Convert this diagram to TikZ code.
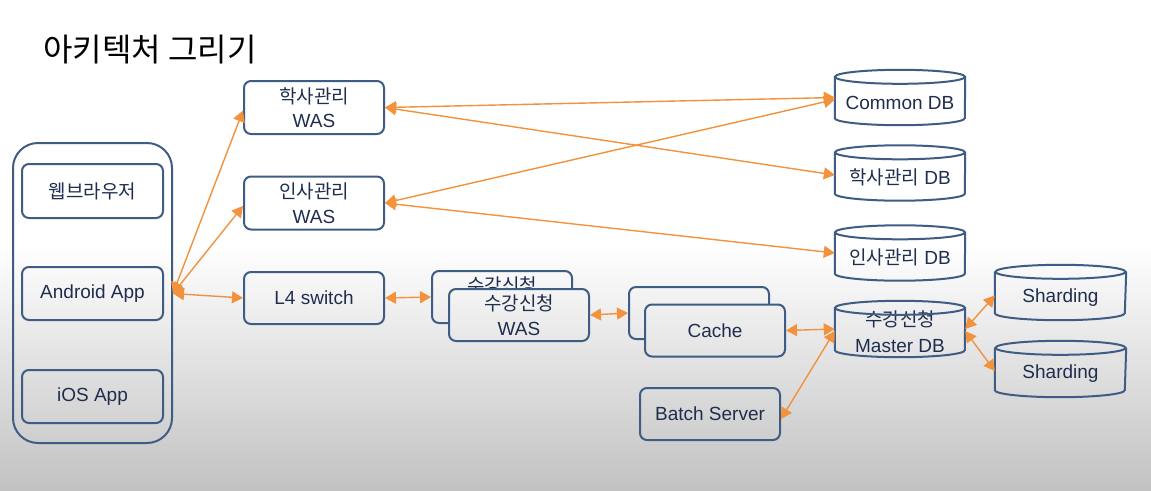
\documentclass[tikz,border=0pt]{standalone}
\usepackage{fontspec}
\setmainfont{Liberation Sans}
\newfontfamily\kr{Noto Sans CJK KR}
\usetikzlibrary{arrows.meta,calc}
\definecolor{boxc}{HTML}{3F5D84}
\definecolor{txtc}{HTML}{1F2E4E}
\definecolor{arrc}{HTML}{F2923D}
\tikzset{
  box/.style={draw=boxc, line width=2pt, rounded corners=7pt, minimum width=140pt, minimum height=53pt,
    align=center, text=txtc, font=\fontsize{19}{24.5}\selectfont, inner sep=0pt},
  db/.style={minimum width=130pt, minimum height=55pt, inner sep=0pt},
  dbtext/.style={text=txtc, font=\fontsize{19}{26}\selectfont, align=center, inner sep=0pt},
  dbline/.style={draw=boxc, line width=2pt},
  conn/.style={draw=arrc, line width=1.4pt, {Triangle[length=11pt,width=12pt]}-{Triangle[length=11pt,width=12pt]}},
}
\newcommand\cyl[1]{%
  \draw[dbline] ([yshift=-7pt]#1.north) ellipse [x radius=65pt, y radius=7pt];
  \draw[dbline] ([yshift=-7pt]#1.north west) -- ([yshift=7pt]#1.south west)
     arc[start angle=180, end angle=360, x radius=65pt, y radius=7pt] -- ([yshift=-7pt]#1.north east);
}
\newcommand\bgfill{%
  \fill[white] (0,0) rectangle (1151,490);
  \shade[top color=white, bottom color=gray!48] (0,245) rectangle (1151,490);
}
\begin{document}
\begin{tikzpicture}[x=1pt,y=-1pt]
\useasboundingbox (0,0) rectangle (1151,490);
\bgfill
% title
\node[anchor=west, inner sep=0pt, font=\kr\fontsize{32}{36}\selectfont] (title) at (43,50) {아키텍처 그리기};
% clients
\node[box, rounded corners=25pt, minimum width=159pt, minimum height=300pt] (client) at (92.5,293) {};
\node[box, minimum width=141pt, minimum height=54pt] (web) at (92.5,191) {\kr 웹브라우저};
\node[box, minimum width=141pt] (android) at (92.5,293.5) {Android App};
\node[box, minimum width=141pt] (ios) at (92.5,396.5) {iOS App};
% WAS
\node[box] (haksa) at (314,107.5) {{\kr 학사관리}\\WAS};
\node[box] (insa) at (314,203) {{\kr 인사관리}\\WAS};
\node[box, minimum height=52pt] (l4) at (314,298) {L4 switch};
% sugang WAS (stacked)
\node[box, minimum height=52pt] (sgb) at (502,297) {{\kr 수강신청}\\WAS};
\begin{scope}
  \clip[rounded corners=7pt] (449,289) rectangle (589,341);
  \bgfill
\end{scope}
\node[box, minimum height=52pt] (sgf) at (519,315) {{\kr 수강신청}\\WAS};
% cache (stacked)
\node[box, minimum height=52pt] (cab) at (699,313) {};
\begin{scope}
  \clip[rounded corners=7pt] (645,304.5) rectangle (785,356.5);
  \bgfill
\end{scope}
\node[box, minimum height=52pt] (caf) at (715,330.5) {Cache};
\node[box, minimum height=52pt] (batch) at (710,414) {Batch Server};
% databases
\node[db, label={[dbtext, yshift=-5pt]center:Common DB}] (cdb) at (900,97.5) {};
\node[db, label={[dbtext, yshift=-4pt]center:{\kr 학사관리} DB}] (hdb) at (900,173) {};
\node[db, label={[dbtext, yshift=-4pt]center:{\kr 인사관리} DB}] (idb) at (900,253) {};
\node[db, minimum height=56pt, label={[dbtext, yshift=-3pt]center:{\kr 수강신청}\\Master DB}] (mdb) at (900,329) {};
\node[db, minimum width=131pt, label={[dbtext, yshift=-5pt]center:Sharding}] (sh1) at (1060.5,292.5) {};
\node[db, minimum width=131pt, minimum height=56pt, label={[dbtext, yshift=-5pt]center:Sharding}] (sh2) at (1060.5,369) {};
\cyl{cdb}\cyl{hdb}\cyl{idb}\cyl{mdb}\cyl{sh1}\cyl{sh2}
% connectors
\coordinate (aa) at (client.east |- android.center);
\draw[conn] (aa) -- ([yshift=-3pt]haksa.west);
\draw[conn] (aa) -- ([yshift=-3pt]insa.west);
\draw[conn] (aa) -- (l4.west);
\draw[conn] (haksa.east) -- (cdb.west);
\draw[conn] (haksa.east) -- ([yshift=-2pt]hdb.west);
\draw[conn] (insa.east) -- ([yshift=-2pt]cdb.west);
\draw[conn] (insa.east) -- (idb.west);
\draw[conn] (l4.east) -- (sgb.west);
\draw[conn] (sgf.east) -- (cab.west);
\draw[conn] (caf.east) -- (mdb.west);
\draw[conn] ([yshift=-5pt]batch.east) -- ([yshift=-2pt]mdb.west);
\draw[conn] (mdb.east) -- ([yshift=-3pt]sh1.west);
\draw[conn] ([yshift=-2pt]mdb.east) -- ([yshift=-2pt]sh2.west);
\end{tikzpicture}
\end{document}
